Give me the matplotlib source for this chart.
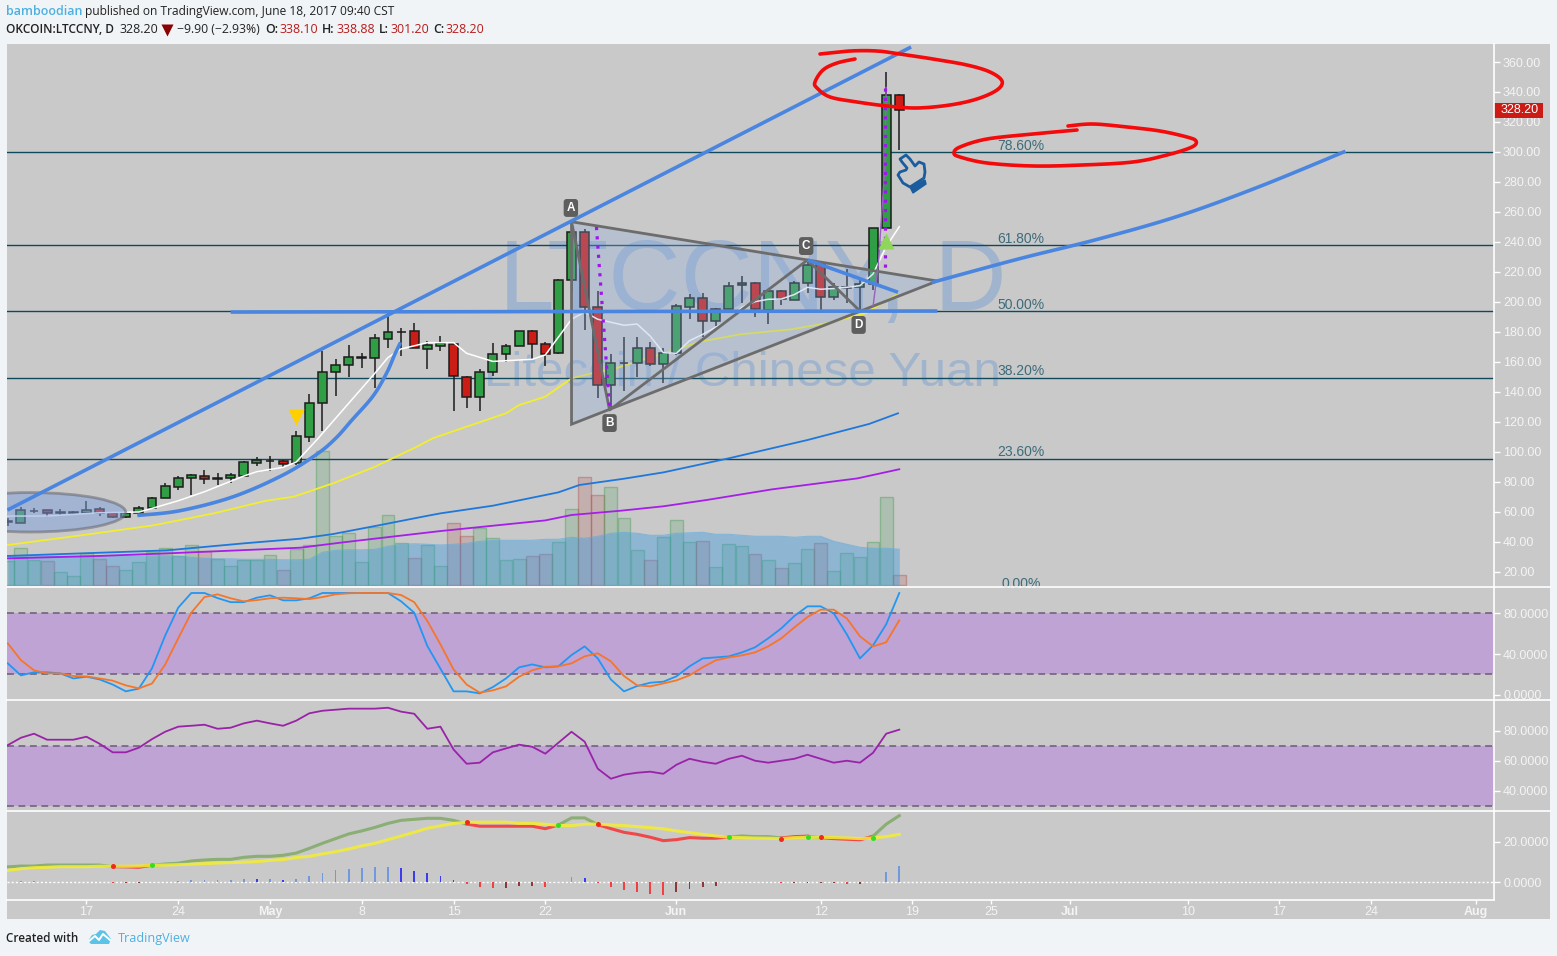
import numpy as np
import matplotlib
matplotlib.use('Agg')
import matplotlib.pyplot as plt
from matplotlib.patches import Polygon, Ellipse, Rectangle

W, H = 1557, 956
BG = '#F1F4F7'
GRAY = '#C9C9C9'
TICK = '#F4F4F4'

# days counted from May 1 2017, one candle a day
days = list(range(-20, 49))
opens = [53.5, 52.9, 60.4, 61.1, 59.4, 59.4, 59.5, 61.8, 59.1, 56.9, 59.1, 62.4, 69.1, 76.9, 82.4, 83.8, 82.3, 82.4, 84.2, 92.9,
         93.8, 93.8, 92.5, 110.2, 132.5, 153.1, 157.8, 162.6, 162.5, 175.5, 179.8, 180.4, 168.9, 170.9, 172.2, 150.2, 136.5, 153.1, 165.1, 170.4,
         180.4, 171.8, 166.2, 214.5, 246.5, 196.9, 144.5, 159.1, 159.5, 169.1, 158.9, 166.2, 196.9, 202.5, 187.1, 195.1, 211.1, 212.5, 194.7, 207.1,
         201.1, 212.5, 225.8, 203.1, 209.6, 210.2, 211.8, 249.1, 338.1]
highs = [56, 63.3, 62.7, 61.1, 62, 60.9, 67.5, 63.3, 60, 59.3, 63.8, 69.8, 79.3, 84, 85.6, 88, 86, 86, 94, 96.7,
         97.3, 94.7, 114, 139, 167.3, 161.8, 171.3, 166.2, 179, 192.4, 183, 185.8, 174, 177.3, 172.4, 150.9, 155.1, 172.4, 172, 180.4,
         181.3, 173.1, 215.1, 253, 248.7, 207.3, 165.1, 176.7, 176.7, 173.1, 169.1, 198.7, 205.3, 205.8, 195.8, 213.1, 217.3, 213.3, 208, 207.8,
         213.8, 228, 226.5, 212.5, 222, 215.1, 249.1, 353.3, 338.88]
lows = [51, 52.9, 59.5, 56.9, 58.2, 58.4, 59.5, 57.5, 56.2, 56.2, 59.1, 62.4, 69.1, 74.7, 71.3, 78.9, 78.2, 79.5, 84.2, 90.7,
        87.5, 89.8, 91.5, 106.7, 114.2, 137.6, 150.2, 156.2, 142.4, 169.5, 164.2, 169.1, 155.6, 167.6, 127.6, 129.5, 127.6, 150.9, 160.2, 170.4,
        161.8, 157.5, 165.5, 206.9, 181.5, 136.2, 127.8, 140.9, 150.2, 157.5, 146.2, 164.7, 188.9, 176.9, 184.2, 195.1, 199.5, 190.2, 185.3, 198,
        201.1, 206.2, 192.9, 201.3, 199.5, 194.7, 208, 249.1, 301.2]
closes = [54, 61.1, 61, 59.5, 59.6, 59.6, 61.5, 59.1, 56.9, 59.1, 62.4, 69.1, 77.1, 82.4, 84.5, 82.2, 82.5, 84.5, 93.1, 94.5,
          94.2, 92.2, 110.5, 132.5, 153.1, 157.8, 163.1, 163.2, 175.8, 179.8, 180.2, 169.1, 171.1, 172.4, 150.4, 136.5, 153.1, 165.1, 170.4, 180.4,
          171.8, 165.5, 214.5, 246.5, 196.9, 144.5, 159.1, 159.5, 169.1, 158.9, 166.2, 197.1, 202.5, 187.1, 195.1, 210.5, 212.5, 195.1, 207.1, 201.8,
          212.5, 225, 203.5, 209.8, 210, 211.8, 249.1, 338.1, 328.2]
volumes = [24, 37, 25, 24, 13, 9, 32, 26, 19, 15, 23, 33, 37, 29, 40, 34, 26, 19, 25, 25,
           30, 15, 36, 40, 134, 49, 52, 23, 58, 70, 42, 27, 40, 19, 62, 49, 57, 47, 25, 26,
           29, 31, 43, 76, 108, 90, 98, 67, 35, 25, 48, 65, 43, 44, 18, 41, 39, 31, 25, 17,
           22, 36, 42, 14, 32, 28, 43, 88, 10]
vol_ma = [29, 29, 29, 29, 29, 29, 29, 29, 29, 29, 29, 29.5, 29.5, 29, 28, 27, 26.5, 26.5, 26, 26,
          26, 25.5, 25.5, 26, 33, 35, 35.5, 35.5, 36, 39, 41, 41.5, 41, 40.3, 41, 42, 44, 45, 45, 45,
          45, 46, 46, 48, 47, 49, 52, 53, 52, 50, 50, 52, 52.5, 53, 51, 51, 50, 49, 49, 49,
          48, 49, 49, 44, 41, 38, 37, 37, 36]

# moving averages, read at a few spots each
white_x = [-20, -17, -13, -10, -9, -7, -5, -2, -1, 1, 2, 3.6, 8, 9, 10, 12, 14, 15, 17, 20, 21, 23, 24, 25, 27, 28, 29, 30, 31, 32, 33, 35, 36, 37, 38, 39, 40, 41, 42, 43, 44, 45, 46, 47, 48]
white_y = [57.3, 57.3, 59.5, 60, 62.4, 67.5, 73.5, 84, 86.9, 89.8, 93.3, 108.4, 152.5, 163, 168.7, 172.9, 172.9, 165.8, 160.4, 161.8, 164.7, 188.5, 193.3, 188.5, 184.5, 185.3, 177.3, 166.2, 165.8, 174.2, 178.4, 188, 196.5, 200.2, 201.8, 202, 205, 209.8, 208.5, 209, 209.8, 210.9, 218.7, 236.9, 250.2]
yellow_x = [-20, -14.2, -8.9, -4.3, -0.3, 1.8, 4.8, 7.9, 11.2, 12.4, 15, 18, 19, 21, 23, 25, 26, 27.7, 30.2, 32.8, 35.8, 39.8, 42.4, 45.4, 46, 47.8]
yellow_y = [38, 44.7, 51.1, 59.1, 67.5, 70.2, 79.1, 89.8, 103.5, 109.1, 116.9, 125.8, 131.3, 136.9, 149.1, 153.5, 154.7, 159.5, 166.2, 173.5, 178.4, 181.8, 185.8, 192.4, 195.8, 205]
blue_x = [-20, -7.9, -2, 2.3, 4.8, 8.4, 11.9, 13, 17, 22, 23.6, 27, 30, 35, 41, 45.7, 47.9]
blue_y = [30.7, 34.4, 39.1, 42.2, 45.3, 51.3, 57.3, 59.1, 64.2, 73.1, 78, 82.2, 86.4, 95.8, 108, 118.7, 125.8]
purple_x = [-20, -13, -7.9, 2.3, 5.6, 13, 21, 23, 26.8, 30, 33.3, 38.3, 43, 44.8, 48]
purple_y = [29.1, 30.7, 32.4, 36.2, 39.8, 47.3, 54.4, 58, 60.9, 63.8, 68, 75.1, 80.4, 82.4, 88.5]

stoch_k = [30.8, 19, 22, 22, 21, 16, 17.7, 15, 10, 3.3, 6, 26, 58, 85.6, 100, 100, 95, 91, 91, 95.4,
           97.7, 92.8, 92.8, 94.8, 100, 100, 100, 100, 100, 100, 91.8, 80.7, 47.9, 25.6, 3.3, 3.3, 1.3, 7.5, 16, 26.9,
           29.8, 26.9, 27.9, 39, 47.5, 35.7, 15, 3.3, 8.5, 11.8, 12.8, 18, 27.9, 35.7, 36.7, 37.7, 41.6, 46.6, 55.4, 65.2,
           77.4, 86.9, 86.9, 80, 59.3, 35.7, 48.5, 69.2, 100]
stoch_d = [50.5, 34, 24, 21, 21, 18.4, 18, 16, 13.8, 9.2, 6.2, 11, 29.5, 55.4, 80.7, 96, 98.7, 94.8, 91.8, 93,
           94.8, 95.4, 94.8, 94, 96, 98.7, 99.7, 100, 100, 100, 98, 91, 72.5, 49.5, 24.9, 10, 2, 4.3, 8.2, 17.7,
           24, 27.5, 27.9, 30.8, 37.7, 40.7, 32.8, 18.4, 9.2, 8.2, 11.1, 14.1, 19, 26.9, 33.8, 36.7, 38.7, 41.6, 47.5, 55.4,
           66.2, 76.4, 83.6, 83.6, 75, 57.4, 47.5, 51.5, 73.1]
rsi = [70.4, 75.3, 78, 74, 74, 74, 76, 71.3, 65.6, 65.6, 68.7, 74.4, 79.3, 82.7, 83.3, 84, 81.3, 82, 84.9, 86.7,
       84.9, 83.3, 86.7, 91.6, 93.3, 94, 94.7, 94.7, 94.7, 95.3, 92.7, 91.3, 81.3, 82.7, 67.5, 58, 58.7, 65.6, 68.2, 70.7,
       69.3, 64.7, 72, 79.3, 72.7, 54.7, 48, 50.7, 52, 52.7, 51.3, 57.3, 61.3, 59.3, 58, 61.3, 63.3, 60, 58.7, 60,
       61.3, 64, 61.3, 58.7, 60, 58.7, 65.3, 78, 80.7]
fast = [7.6, 8, 8, 8.5, 8.5, 8.5, 8.5, 8.5, 7.7, 7.6, 7.4, 8.4, 9, 9.4, 10.5, 11, 11.3, 11.3, 12.3, 12.8,
        12.8, 13.3, 14.4, 16.7, 19.2, 21.5, 23.8, 25.3, 27, 29, 30.5, 31, 31.5, 31.5, 30.5, 28.7, 27.6, 27.6, 27.6, 27.6,
        27.6, 26.4, 28.2, 31.7, 31.7, 28.4, 26.4, 24.6, 23.6, 22.2, 20.5, 21, 22, 21.7, 21.7, 22.3, 22.8, 22.5, 22.5, 21.8,
        22.5, 22.7, 22, 21.5, 21.2, 20.9, 22.7, 28.6, 32.8]
slow = [5.9, 6.7, 7.2, 7.4, 7.7, 7.7, 7.7, 7.9, 7.9, 7.9, 8, 8.4, 8.5, 8.7, 8.9, 9.2, 9.5, 9.7, 9.9, 10.2,
        10.8, 11.2, 12.2, 12.8, 14, 15.1, 16.4, 17.9, 19.2, 21, 22.8, 24.6, 26.6, 27.8, 29, 29.6, 29.6, 29.6, 29.6, 29,
        29, 28.6, 28, 27.9, 28.6, 28.7, 28.2, 27.9, 27.4, 26.9, 26.3, 25.3, 24.5, 23.6, 22.8, 22.2, 22, 21.8, 21.7, 21.5,
        22, 22.2, 22.2, 22, 21.8, 21.5, 21.8, 22.5, 23.6]
hist = [0.3, 0.5, 0.6, 0, 0.3, 0.3, 0, 0, -0.4, -0.4, -0.4, 0, 0.2, 0.6, 1, 1.1, 1.1, 1.2, 1.6, 1.5,
        1.7, 1.2, 1.6, 3.2, 4.6, 6, 6.5, 7, 7.6, 7.6, 7, 5.7, 4.7, 3.1, 1.2, -1, -2.4, -2.8, -2.8, -1.6,
        -1.6, -2.4, 0, 2.6, 2, -0.4, -2.4, -3.8, -4.8, -5.6, -6.3, -4.8, -3.2, -2.4, -1.6, 0, 0, 0, 0, -0.4,
        -0.4, -0.4, -0.4, -0.4, -0.6, -0.6, 0, 5, 8]
cross_days = [-12, -9, 15, 22, 25, 35, 39, 41, 42, 46]

# fibonacci levels
fib_levels = [300, 238, 194, 149.5, 95.5]
fib_label_prices = [304, 242, 198, 154, 100, 12.2]
fib_labels = ['78.60%', '61.80%', '50.00%', '38.20%', '23.60%', '0.00%']

price_ticks = list(range(20, 361, 20))
date_ticks = [-14, -7, 0, 7, 14, 21, 31, 42, 49, 55, 61, 70, 77, 84, 92]
date_labels = ['17', '24', 'May', '8', '15', '22', 'Jun', '12', '19', '25', 'Jul', '10', '17', '24', 'Aug']

# drawings on the chart, (day, price)
channel = [(-20.03, 61.3), (48.9, 370)]
hline = [(-3, 193.3), (50.9, 194)]
curve_left = [(-9.98, 57.8), (-6.85, 60.9), (-2.8, 70.2), (1, 84.7), (3.6, 98.7), (5.03, 109.3), (6.25, 121.3), (7.86, 137.3), (8.9, 152.7), (9.5, 164.7), (9.9, 172)]
curve_right = [(50.6, 213.3), (57.1, 228.7), (63.2, 242), (69.3, 257.3), (75.4, 276.7), (81.9, 300)]
triangle = [(23, 253.5), (50.9, 214), (23, 118.5)]
zigzag = [(23, 253.5), (25.9, 128), (41.0, 228), (45, 194)]
dots_a = [(24.9, 250), (25.9, 130)]
dots_b = [(46.9, 343), (46.9, 223)]
thin_purple = [(46, 197), (46.4, 225), (46.9, 290), (47, 343)]
down_line = [(41.0, 228), (47.9, 206.5)]
points = {'A': (22.95, 262.7), 'B': (25.9, 119.3), 'C': (40.9, 237.3), 'D': (44.9, 184.7)}
flag_down = (2, 123.3)
flag_up = (47, 240.7)

# freehand stuff in picture pixels
red_one = [(820, 54), (850, 51), (877, 51), (900, 54), (933, 59), (967, 65), (990, 72), (1002, 81), (997, 90), (977, 99), (950, 105), (917, 108), (887, 106), (857, 102), (830, 97), (817, 88), (815, 82), (823, 70), (837, 63), (855, 59)]
red_two = [(1068, 126), (1093, 124), (1127, 127), (1160, 131), (1187, 137), (1196, 141), (1192, 147), (1167, 155), (1133, 162), (1083, 165), (1033, 166), (987, 163), (960, 157), (954, 153), (960, 147), (987, 139), (1033, 134), (1077, 130)]
hand = [(900, 159), (906, 155), (910, 159), (915, 166), (919, 162), (924, 164), (925, 172), (924, 178), (910, 187), (903, 183), (898, 175), (900, 172), (906, 170), (907, 168), (902, 162)]
cuff = [(910, 187), (925, 180), (926, 184), (913, 193)]


def smooth(pts, n=12):
    # catmull-rom through the points
    p = np.array(pts, dtype=float)
    p = np.vstack([p[0], p, p[-1]])
    out = []
    for i in range(1, len(p) - 2):
        for t in np.linspace(0, 1, n, endpoint=False):
            a = 2 * p[i] + (p[i + 1] - p[i - 1]) * t
            b = (2 * p[i - 1] - 5 * p[i] + 4 * p[i + 1] - p[i + 2]) * t * t
            c = (3 * p[i] - p[i - 1] - 3 * p[i + 1] + p[i + 2]) * t ** 3
            out.append(0.5 * (a + b + c))
    out.append(p[-2])
    return np.array(out)


def box(x0, y0, x1, y1):
    return [x0 / W, 1 - y1 / H, (x1 - x0) / W, (y1 - y0) / H]


plt.rcParams['font.family'] = ['Liberation Sans', 'DejaVu Sans']
fig = plt.figure(figsize=(W / 100, H / 100), dpi=100, facecolor=BG)

bg = fig.add_axes([0, 0, 1, 1], zorder=0)
bg.set_xlim(0, W)
bg.set_ylim(H, 0)
bg.axis('off')
bg.add_patch(Rectangle((7, 44), 1543, 875, fc=GRAY, ec='none'))

XL = (7 - 270) / 13.11
XR = (1494 - 270) / 13.11
d = np.array(days)

ax_vol = fig.add_axes(box(7, 44, 1494, 586), zorder=1)
ax = fig.add_axes(box(7, 44, 1494, 586), zorder=2, sharex=ax_vol)
ax1 = fig.add_axes(box(7, 587, 1494, 700), zorder=2, sharex=ax_vol)
ax2 = fig.add_axes(box(7, 701, 1494, 811), zorder=2, sharex=ax_vol)
ax3 = fig.add_axes(box(7, 812, 1494, 900), zorder=2, sharex=ax_vol)
ax_vol.set_xlim(XL, XR)
ax.set_ylim((602 - 586) / 1.5, (602 - 44) / 1.5)
ax1.set_ylim(-5.2, 105.9)
ax2.set_ylim(26.5, 99.8)
ax3.set_ylim(-8.7, 34.6)

for a in [ax, ax1, ax2, ax3]:
    a.patch.set_visible(False)
    for s in a.spines.values():
        s.set_visible(False)
    a.yaxis.tick_right()
    a.tick_params(axis='y', length=4, width=1, color='white', labelcolor=TICK, labelsize=9, pad=2.5)
    a.tick_params(axis='x', length=0, labelbottom=False)

# volume
ax_vol.axis('off')
ax_vol.set_ylim(-0.7, 541.3)
up = np.array(closes) >= np.array(opens)
for x, v, u in zip(days, volumes, up):
    col = '#3F9A4C' if u else '#B04A4A'
    ax_vol.bar(x, v, width=0.98, facecolor=matplotlib.colors.to_rgba(col, 0.2), edgecolor=matplotlib.colors.to_rgba(col, 0.4), linewidth=1)
ax_vol.fill_between(d, 0, vol_ma, color='#3D9BE0', alpha=0.42, linewidth=0)
ax_vol.plot(d, vol_ma, color='#5BA8E0', lw=0.8, alpha=0.6)

# watermark
ax.text(17.5, 212, 'LTCCNY, D', fontsize=72, color='#5C8FD8', alpha=0.36, va='center', ha='left', zorder=1)
ax.text(16.3, 152.5, 'Litecoin / Chinese Yuan', fontsize=35.5, color='#5C8FD8', alpha=0.36, va='center', ha='left', zorder=1)

# fib lines
for lv in fib_levels:
    ax.axhline(lv, color='#0E4A5C', lw=1, zorder=2)
for p, t in zip(fib_label_prices, fib_labels):
    ax.text(57.3, p, t, fontsize=10, color='#3D6B7A', ha='center', va='center', zorder=2, clip_on=False)

# moving averages
ax.plot(blue_x, blue_y, color='#1E78DC', lw=1.3, zorder=3)
ax.plot(purple_x, purple_y, color='#A61EE8', lw=1.3, zorder=3)
ax.plot(yellow_x, yellow_y, color='#F2EE2E', lw=1.3, zorder=3)
ax.plot(white_x, white_y, color='white', lw=1.1, zorder=5)

# candles
for x, o, h, l, c in zip(days, opens, highs, lows, closes):
    col = '#2F9E44' if c >= o else '#CC1C16'
    ax.plot([x, x], [l, h], color='#1C1C1C', lw=1.1, zorder=4, solid_capstyle='butt')
    ax.bar(x, max(abs(c - o), 0.4), bottom=min(o, c), width=0.68, facecolor=col, edgecolor='#1C1C1C', linewidth=1.1, zorder=4)

# left ellipse and triangle go over the candles
ax.add_patch(Ellipse((-18.3, 59.8), 14.6, 26.3, fc='#7F9FDC', ec='#5E5E68', lw=2, alpha=0.5, zorder=6))
ax.add_patch(Polygon(triangle, closed=True, fc='#8FAEDF', ec='none', alpha=0.3, zorder=6))
ax.add_patch(Polygon(triangle, closed=True, fc='none', ec='#6C6C6C', lw=2, zorder=7))
ax.plot(*zip(*zigzag), color='#6C6C6C', lw=2, zorder=7)
ax.plot(*zip(*thin_purple), color='#9A5FC0', lw=1, zorder=7)
ax.plot(*zip(*dots_a), color='#A014F0', lw=2.3, ls=(0, (1, 1.9)), zorder=8)
ax.plot(*zip(*dots_b), color='#A014F0', lw=2.3, ls=(0, (1, 1.9)), zorder=8)

# blue trend drawings
for line in [channel, hline, down_line]:
    ax.plot(*zip(*line), color='#4A86E0', lw=2.6, zorder=8, solid_capstyle='butt')
for curve in [curve_left, curve_right]:
    s = smooth(curve)
    ax.plot(s[:, 0], s[:, 1], color='#4A86E0', lw=2.6, zorder=8)

for name, (x, y) in points.items():
    ax.text(x, y, name, fontsize=8.5, color='white', ha='center', va='center', zorder=9, fontweight='bold',
            bbox=dict(boxstyle='round,pad=0.25', fc='#5E5E5E', ec='none'))

ax.plot(*flag_down, marker='v', ms=11, color='#FFD000', mec='none', zorder=9)
ax.plot(*flag_up, marker='^', ms=12, color='#8FD65A', mec='none', zorder=9)

ax.set_yticks(price_ticks)
ax.set_yticklabels(['%.2f' % v for v in price_ticks])
tr = ax.get_yaxis_transform()
ax.add_patch(Rectangle((1, 322.7), 49 / 1487, 10, transform=tr, fc='#CC1A14', ec='none', zorder=10, clip_on=False))
ax.text(1 + 7 / 1487, 327.7, '328.20', transform=tr, fontsize=9, color='white', va='center', ha='left', zorder=11, clip_on=False)

# stochastic
ax1.axhspan(20, 80, color='#BFA3D4', lw=0)
ax1.axhline(80, color='#6B5A78', lw=1.1, ls=(0, (4.5, 3)))
ax1.axhline(20, color='#6B5A78', lw=1.1, ls=(0, (4.5, 3)))
ax1.plot(d, stoch_k, color='#2196F3', lw=1.3)
ax1.plot(d, stoch_d, color='#F5762A', lw=1.3)
ax1.set_yticks([0, 40, 80])
ax1.set_yticklabels(['0.0000', '40.0000', '80.0000'])

# rsi
ax2.axhspan(30, 70, color='#BFA3D4', lw=0)
ax2.axhline(70, color='#6B5A78', lw=1.1, ls=(0, (4.5, 3)))
ax2.axhline(30, color='#6B5A78', lw=1.1, ls=(0, (4.5, 3)))
ax2.plot(d, rsi, color='#9A22A8', lw=1.3)
ax2.set_yticks([40, 60, 80])
ax2.set_yticklabels(['40.0000', '60.0000', '80.0000'])

# bottom panel
ax3.axhline(0, color='white', lw=1, ls=(0, (1.5, 1.5)))
for i, (x, v) in enumerate(zip(days, hist)):
    prev = hist[i - 1] if i else v
    if v >= 0:
        col = '#7099E0' if v >= prev else '#3B3BF0'
    else:
        col = '#F04040' if v < prev else '#8B3A3A'
    ax3.bar(x, v, width=0.14, color=col, zorder=2)
edges = [d[0]] + cross_days + [d[-1]]
for k in range(len(edges) - 1):
    mask = (d >= edges[k]) & (d <= edges[k + 1])
    ax3.plot(d[mask], np.array(fast)[mask], color='#8AAE73' if k % 2 == 0 else '#F04848', lw=2.2, zorder=3)
ax3.plot(d, slow, color='#F4EE30', lw=2.2, alpha=0.85, zorder=4)
for i, x in enumerate(cross_days):
    ax3.plot(x, slow[days.index(x)], 'o', ms=3.6, color='#F02A1A' if i % 2 == 0 else '#30E020', mec='none', zorder=5)
ax3.set_yticks([0, 20])
ax3.set_yticklabels(['0.0000', '20.0000'])
ax3.set_xticks(date_ticks)
ax3.set_xticklabels(date_labels)
ax3.tick_params(axis='x', length=3, width=1, color='white', labelcolor=TICK, labelsize=9, pad=1.5, labelbottom=True)
for lab in ax3.get_xticklabels():
    if lab.get_text() in ('May', 'Jun', 'Jul', 'Aug'):
        lab.set_fontweight('bold')

# overlay in pixels: separators, freehand, icons, header
ov = fig.add_axes([0, 0, 1, 1], zorder=5)
ov.set_xlim(0, W)
ov.set_ylim(H, 0)
ov.axis('off')
ov.plot([1494, 1494], [44, 900], color='white', lw=1.2)
ov.plot([7, 1494], [900, 900], color='white', lw=1.2)
for y in [586.5, 700.3, 811]:
    ov.plot([7, 1550], [y, y], color='white', lw=1.2)
for pts in [red_one, red_two]:
    s = smooth(pts)
    ov.plot(s[:, 0], s[:, 1], color='#F40A0A', lw=2.6, solid_capstyle='round')
ov.add_patch(Polygon(hand, closed=True, fc='none', ec='#1B5C9E', lw=2, joinstyle='round'))
ov.add_patch(Polygon(cuff, closed=True, fc='#1B5C9E', ec='#1B5C9E', lw=1))

DARK = '#222222'
RED = '#B71C1C'
HF = ['Open Sans', 'DejaVu Sans']


def head(x, y, t, color=DARK, weight='normal', size=8.7):
    ov.text(x, y, t, color=color, fontsize=size, family=HF, fontweight=weight, va='center', ha='left')


head(6, 11.5, 'bamboodian', color='#4DB0E0', weight='semibold', size=9)
head(85, 11.5, 'published on TradingView.com, June 18, 2017 09:40 CST', size=8.65)
head(6, 29.5, 'OKCOIN:LTCCNY, D', weight='semibold', size=8.6)
head(120, 29.5, '328.20', size=9)
ov.plot(167, 30, marker='v', ms=8, color='#8B0000', mec='none')
head(177, 29.5, '\u22129.90 (\u22122.93%)', size=8.8)
for x1, lab, x2, val in [(265, 'O:', 280, '338.10'), (322, 'H:', 337, '338.88'), (379, 'L:', 391, '301.20'), (433, 'C:', 446, '328.20')]:
    head(x1, 29.5, lab, weight='semibold', size=8.9)
    head(x2, 29.5, val, color=RED, size=9)

head(6, 938, 'Created with', weight='semibold', size=8.4)
head(118, 938.5, 'TradingView', color='#4DB0E0', size=9.1)
logo = [(88, 941), (92, 935), (96, 934), (100, 930), (105, 931), (108, 935), (111, 939), (109, 944), (91, 944)]
ov.add_patch(Polygon(logo, closed=True, fc='#5BC3E8', ec='none'))
ov.plot([89, 95, 99, 103, 110], [941, 936, 940, 934, 940], color='white', lw=1.4)

fig.savefig('out.png', dpi=100, facecolor=BG)
